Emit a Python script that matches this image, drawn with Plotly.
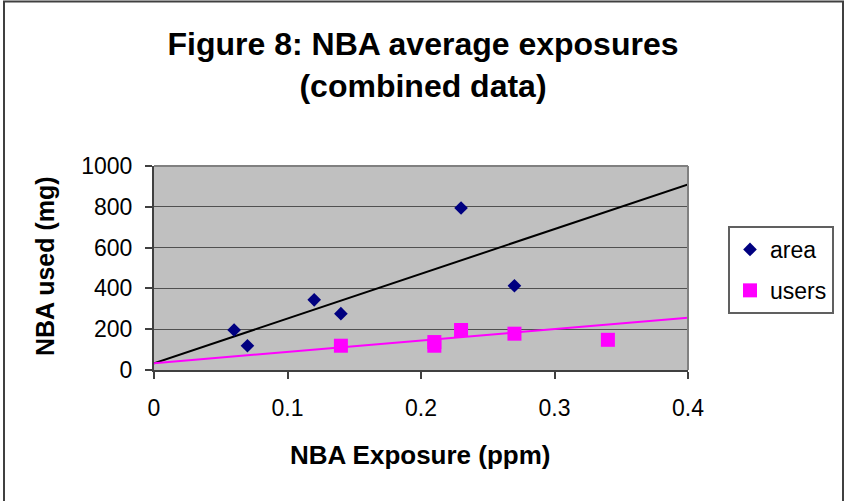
import plotly.graph_objects as go

# Average NBA exposure (ppm) vs NBA used (mg)
area_x = [0.06, 0.07, 0.12, 0.14, 0.23, 0.27]
area_y = [196, 119, 344, 276, 794, 413]

users_x = [0.14, 0.21, 0.21, 0.23, 0.27, 0.34]
users_y = [119, 137, 119, 196, 178, 148]

# Linear trend lines (end points over the axis range)
trend_x = [0.0, 0.4]
area_trend_y = [33, 910]
users_trend_y = [33, 256]

x_ticks = [0, 0.1, 0.2, 0.3, 0.4]
x_tick_labels = ["0", "0.1", "0.2", "0.3", "0.4"]
y_ticks = [0, 200, 400, 600, 800, 1000]

FONT = "Liberation Sans, Arial, sans-serif"
W, H = 846, 501
L, R, T, B = 154, 158, 166, 131
PW, PH = W - L - R, H - T - B


def px_x(p):
    return (p - L) / PW


def px_y(p):
    return (H - B - p) / PH


fig = go.Figure()

fig.add_trace(go.Scatter(
    x=trend_x, y=area_trend_y, mode="lines",
    line=dict(color="black", width=2), showlegend=False, hoverinfo="skip"))
fig.add_trace(go.Scatter(
    x=trend_x, y=users_trend_y, mode="lines",
    line=dict(color="#FF00FF", width=2), showlegend=False, hoverinfo="skip"))

fig.add_trace(go.Scatter(
    x=area_x, y=area_y, mode="markers", name="area", legendgroup="a",
    marker=dict(symbol="diamond", size=10.5, color="#000080",
                line=dict(width=0))))
fig.add_trace(go.Scatter(
    x=users_x, y=users_y, mode="markers", name="users", legendgroup="u",
    marker=dict(symbol="square", size=14, color="#FF00FF",
                line=dict(width=0))))

fig.update_layout(
    width=W, height=H,
    margin=dict(l=L, r=R, t=T, b=B, pad=0, autoexpand=False),
    paper_bgcolor="white",
    plot_bgcolor="#C0C0C0",
    font=dict(family=FONT, color="black", size=23),
    title=dict(
        text="<b>Figure 8: NBA average exposures<br>(combined data)</b>",
        x=0.5, xref="container", xanchor="center",
        y=(H - 55) / H, yref="container", yanchor="middle",
        font=dict(family=FONT, size=32, color="black")),
    xaxis=dict(
        range=[0, 0.4], tickvals=x_ticks, ticktext=x_tick_labels,
        showgrid=False, zeroline=False,
        showline=True, linecolor="#404040", linewidth=2,
        ticks="outside", ticklen=7, tickwidth=2, tickcolor="#404040",
        tickfont=dict(size=23), ticklabelstandoff=9),
    yaxis=dict(
        range=[0, 1000], tickvals=y_ticks,
        showgrid=True, gridcolor="#505050", gridwidth=1, zeroline=False,
        showline=True, linecolor="#404040", linewidth=2,
        ticks="outside", ticklen=7, tickwidth=2, tickcolor="#404040",
        tickfont=dict(size=23), ticklabelstandoff=8),
    legend=dict(
        x=px_x(728), y=px_y(226), xref="paper", yref="paper",
        xanchor="left", yanchor="top",
        bgcolor="white", bordercolor="#606060", borderwidth=2,
        font=dict(family=FONT, size=23, color="black"),
        traceorder="grouped", tracegroupgap=8, itemsizing="trace"),
    annotations=[
        dict(text="<b>NBA Exposure (ppm)</b>", xref="paper", yref="paper",
             x=px_x(420), y=px_y(455), xanchor="center", yanchor="middle",
             showarrow=False, font=dict(family=FONT, size=26)),
        dict(text="<b>NBA used (mg)</b>", xref="paper", yref="paper",
             x=px_x(45), y=px_y(266), xanchor="center", yanchor="middle",
             textangle=-90, showarrow=False, font=dict(family=FONT, size=25)),
    ],
    shapes=[
        # plot area frame (top and right)
        dict(type="line", xref="paper", yref="paper", x0=0, x1=1, y0=1, y1=1,
             line=dict(color="#808080", width=2), layer="above"),
        dict(type="line", xref="paper", yref="paper", x0=1, x1=1, y0=0, y1=1,
             line=dict(color="#808080", width=2), layer="above"),
        # chart border
        dict(type="rect", xref="paper", yref="paper",
             x0=px_x(4), x1=px_x(843), y0=px_y(505), y1=px_y(1.5),
             line=dict(color="#404040", width=2), fillcolor="rgba(0,0,0,0)",
             layer="above"),
    ],
)

fig.write_html("out.html")
